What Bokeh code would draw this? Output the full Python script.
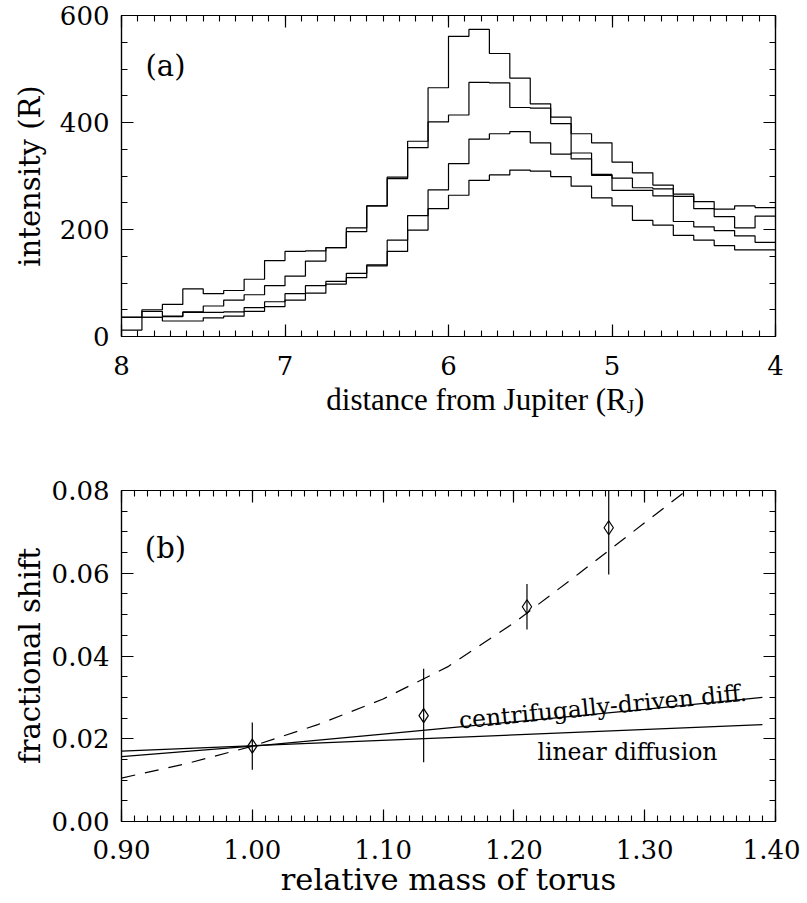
import numpy as np
from bokeh.plotting import figure
from bokeh.models import Range1d, LinearAxis, FixedTicker, PrintfTickFormatter, Label
from bokeh.layouts import column
from bokeh.embed import file_html
from bokeh.resources import INLINE

FONT = "DejaVu Serif"

# ---------------- panel (a) data ----------------
# bin edges in R_J (32 bins of 0.125 R_J, from 8 down to 4)
distance_edges = np.linspace(8.0, 4.0, 33)
intensity_1 = [12, 50, 60, 89, 80, 86, 107, 142, 159, 160, 166, 203, 244, 298, 365, 465,
               561, 574, 529, 483, 435, 410, 379, 362, 326, 306, 283, 266, 252, 238, 244, 241]
intensity_2 = [36, 47, 38, 46, 57, 68, 78, 95, 113, 141, 166, 196, 244, 295, 353, 401,
               414, 475, 474, 428, 427, 398, 332, 301, 296, 278, 276, 215, 205, 198, 188, 176]
intensity_3 = [36, 36, 37, 45, 45, 46, 54, 65, 80, 95, 103, 118, 134, 180, 226, 274,
               323, 369, 379, 383, 362, 341, 343, 303, 273, 273, 263, 262, 239, 224, 203, 225]
intensity_4 = [36, 36, 29, 29, 35, 38, 47, 56, 68, 81, 98, 110, 132, 159, 199, 239,
               264, 292, 302, 311, 309, 299, 281, 259, 244, 217, 208, 189, 180, 170, 162, 162]
dist_ticks = [8, 7, 6, 5, 4]
dist_minor = [round(4 + 0.1 * i, 1) for i in range(41)]
int_ticks = [0, 200, 400, 600]
int_minor = [50 * i for i in range(13)]

# ---------------- panel (b) data ----------------
torus_mass = [1.000, 1.131, 1.210, 1.2725]
frac_shift = [0.0182, 0.0256, 0.0519, 0.0710]
frac_err = [0.0057, 0.0113, 0.0055, 0.0113]
fit_mass = [0.90, 0.95, 1.00, 1.05, 1.10, 1.15, 1.20, 1.25, 1.30, 1.332]
fit_shift = [0.0105, 0.0140, 0.0182, 0.0234, 0.0296, 0.0375, 0.0480, 0.0600, 0.0722, 0.0800]
centrifugal_mass = [0.90, 1.00, 1.10, 1.20, 1.30, 1.39]
centrifugal_shift = [0.0157, 0.0182, 0.0211, 0.0241, 0.0271, 0.0300]
linear_mass = [0.90, 1.39]
linear_shift = [0.0170, 0.0234]
mass_ticks = [0.90, 1.00, 1.10, 1.20, 1.30, 1.40]
mass_minor = [round(0.90 + 0.01 * i, 2) for i in range(51)]
shift_ticks = [0.00, 0.02, 0.04, 0.06, 0.08]
shift_minor = [round(0.005 * i, 3) for i in range(17)]


def style_axis(ax, ticks, minor, labels=True, fmt=None):
    ax.ticker = FixedTicker(ticks=ticks, minor_ticks=minor)
    ax.major_tick_in = 12
    ax.major_tick_out = 0
    ax.minor_tick_in = 6
    ax.minor_tick_out = 0
    ax.axis_line_color = "black"
    ax.axis_line_width = 1.2
    ax.major_tick_line_color = "black"
    ax.major_tick_line_width = 1.2
    ax.minor_tick_line_color = "black"
    ax.minor_tick_line_width = 1.1
    if fmt is not None:
        ax.formatter = fmt
    if labels:
        ax.major_label_text_font = FONT
        ax.major_label_text_font_size = "26px"
        ax.major_label_text_color = "black"
    else:
        ax.major_label_text_font_size = "1px"
        ax.major_label_text_color = None
        ax.major_label_standoff = 0
    ax.axis_label_text_font = FONT
    ax.axis_label_text_font_size = "29px"
    ax.axis_label_text_font_style = "normal"
    ax.axis_label_text_color = "black"


W = 800
LEFT, RIGHT = 121, 25

# ---------------- top panel ----------------
p1 = figure(width=W, height=380, x_range=Range1d(8, 4), y_range=Range1d(0, 600),
            output_backend="svg", toolbar_location=None,
            min_border_left=LEFT, min_border_right=RIGHT, min_border_top=15, min_border_bottom=44)
p1.grid.visible = False
p1.outline_line_color = "black"
p1.outline_line_width = 1.2

for vals in (intensity_1, intensity_2, intensity_3, intensity_4):
    p1.step(distance_edges, list(vals) + [vals[-1]], mode="after",
            line_color="black", line_width=1.2)

style_axis(p1.xaxis[0], dist_ticks, dist_minor, fmt=PrintfTickFormatter(format="%d"))
p1.xaxis[0].major_label_standoff = 19
style_axis(p1.yaxis[0], int_ticks, int_minor, fmt=PrintfTickFormatter(format="%d"))
p1.yaxis[0].major_label_standoff = 12
p1.yaxis[0].axis_label = "intensity (R)"
p1.yaxis[0].axis_label_standoff = 10
ax_r = LinearAxis()
style_axis(ax_r, int_ticks, int_minor, labels=False)
p1.add_layout(ax_r, "right")
ax_t = LinearAxis()
style_axis(ax_t, dist_ticks, dist_minor, labels=False)
p1.add_layout(ax_t, "above")

p1.add_layout(Label(x=7.731, y=506, text="(a)", text_align="center", text_baseline="middle",
                    text_font=FONT, text_font_size="29px", text_color="black"))

# ---------------- x-axis title of panel (a), with subscript J ----------------
pt = figure(width=W, height=46, x_range=Range1d(0, W), y_range=Range1d(0, 46),
            output_backend="svg", toolbar_location=None, min_border=0,
            x_axis_location=None, y_axis_location=None)
pt.grid.visible = False
pt.outline_line_color = None
pt.text(x=[618], y=[27], text=["distance from Jupiter (R"], text_align="right",
        text_baseline="middle", text_font="DejaVu Serif", text_font_size="31px",
        text_color="black")
pt.text(x=[618], y=[20], text=["J"], text_align="left", text_baseline="middle",
        text_font="DejaVu Serif", text_font_size="19px", text_color="black")
pt.text(x=[627], y=[27], text=[")"], text_align="left", text_baseline="middle",
        text_font="DejaVu Serif", text_font_size="31px", text_color="black")

# ---------------- bottom panel ----------------
p2 = figure(width=W, height=474, x_range=Range1d(0.9, 1.4), y_range=Range1d(0, 0.08),
            output_backend="svg", toolbar_location=None,
            min_border_left=LEFT, min_border_right=RIGHT, min_border_top=64, min_border_bottom=79)
p2.grid.visible = False
p2.outline_line_color = "black"
p2.outline_line_width = 1.2

p2.line(fit_mass, fit_shift, line_color="black", line_width=1.2, line_dash="14 10")
p2.line(centrifugal_mass, centrifugal_shift, line_color="black", line_width=1.2)
p2.line(linear_mass, linear_shift, line_color="black", line_width=1.2)
lo = [s - e for s, e in zip(frac_shift, frac_err)]
hi = [s + e for s, e in zip(frac_shift, frac_err)]
p2.segment(x0=torus_mass, y0=lo, x1=torus_mass, y1=hi, line_color="black", line_width=1.2)
p2.scatter(torus_mass, frac_shift, marker="diamond", size=14, fill_color=None,
           line_color="black", line_width=1.2)

style_axis(p2.xaxis[0], mass_ticks, mass_minor, fmt=PrintfTickFormatter(format="%.2f"))
p2.xaxis[0].major_label_standoff = 18
p2.xaxis[0].axis_label = "relative mass of torus"
p2.xaxis[0].axis_label_text_font_size = "30.5px"
p2.xaxis[0].axis_label_standoff = 0
style_axis(p2.yaxis[0], shift_ticks, shift_minor, fmt=PrintfTickFormatter(format="%.2f"))
p2.yaxis[0].major_label_standoff = 12
p2.yaxis[0].axis_label = "fractional shift"
p2.yaxis[0].axis_label_standoff = 2
ax_r2 = LinearAxis()
style_axis(ax_r2, shift_ticks, shift_minor, labels=False)
p2.add_layout(ax_r2, "right")
ax_t2 = LinearAxis()
style_axis(ax_t2, mass_ticks, mass_minor, labels=False)
p2.add_layout(ax_t2, "above")

p2.add_layout(Label(x=0.9336, y=0.066, text="(b)", text_align="center", text_baseline="middle",
                    text_font=FONT, text_font_size="29px", text_color="black"))
p2.add_layout(Label(x=1.158, y=0.0244, angle=0.097, text="centrifugally\u2010driven diff.",
                    text_align="left", text_baseline="alphabetic", text_font=FONT,
                    text_font_size="23.5px", text_color="black"))
p2.add_layout(Label(x=1.218, y=0.0167, text="linear diffusion", text_align="left",
                    text_baseline="middle", text_font=FONT, text_font_size="23.5px",
                    text_color="black"))

layout = column(p1, pt, p2)
open("out.html", "w").write(file_html(layout, INLINE))
